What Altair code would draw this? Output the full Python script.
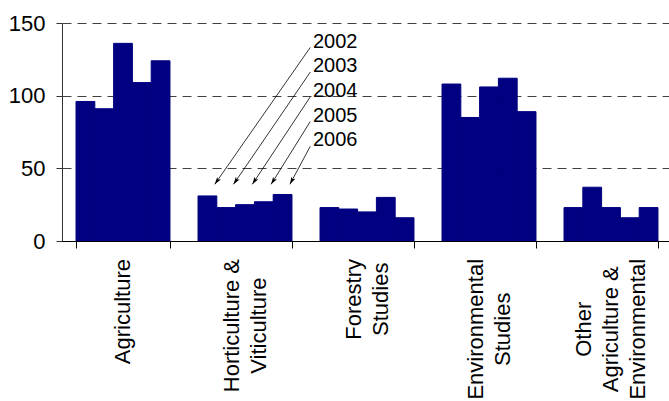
import json
import math

import altair as alt
import pandas as pd

# ---- data -------------------------------------------------------------
categories = [
    "Agriculture",
    "Horticulture &\nViticulture",
    "Forestry\nStudies",
    "Environmental\nStudies",
    "Other\nAgriculture &\nEnvironmental",
]
years = ["2002", "2003", "2004", "2005", "2006"]

agriculture = [96, 91, 136, 109, 124]
horticulture = [31, 23, 25, 27, 32]
forestry = [23, 22, 20, 30, 16]
environmental = [108, 85, 106, 112, 89]
other = [23, 37, 23, 16, 23]
series = [agriculture, horticulture, forestry, environmental, other]

# ---- layout -----------------------------------------------------------
FONT = "Liberation Sans"
NAVY = "#000080"
PLOT_W = 607          # visible plot width
RANGE_W = 610         # x range (last interval runs just past the edge)
PLOT_H = 218
PAD_INNER = 0.23
PAD_OUTER = PAD_INNER / 2
STEP = RANGE_W / len(categories)
Y_MAX = 150
LABEL_TOP = 18        # gap between the x axis line and the category labels
LINE_H = 27

# half of the longest line of each rotated category label (px)
label_half = {
    categories[0]: 52.6,
    categories[1]: 66.6,
    categories[2]: 40.3,
    categories[3]: 70.3,
    categories[4]: 70.3,
}
dx_expr = " : ".join(
    f"datum.category === {json.dumps(c)} ? {-h}" for c, h in label_half.items()
) + " : 0"
# centre the stack of lines on the category
dy_expr = f"-(length(split(datum.category, '\\n')) - 1) * {LINE_H / 2}"

rows = [
    {"category": c, "year": y, "count": v}
    for c, vals in zip(categories, series)
    for y, v in zip(years, vals)
]
bars_df = pd.DataFrame(rows)
cat_df = pd.DataFrame({"category": categories})

# ---- call-outs naming the years on the second group -----------------
px_x = STEP
px_y = PLOT_H / Y_MAX
group = 1
slot = (1 - PAD_INNER) / len(years)
label_x = 2.057
tail_x = 2.035
label_top = 137.2
label_step = 17.0
tip_y = max(horticulture) + 7
ann = []
for j, yr in enumerate(years):
    ly = label_top - j * label_step
    ty = ly - 4
    tx = group + PAD_OUTER + (j + 0.5) * slot + 0.06
    dxp = (tx - tail_x) * px_x
    dyp = (ty - tip_y) * px_y
    ang = math.degrees(math.atan2(dxp, -dyp)) % 360
    ann.append({"year": yr, "label_x": label_x, "label_y": ly,
                "tail_x": tail_x, "tail_y": ty,
                "tip_x": tx, "tip_y": tip_y, "angle": ang})
ann_df = pd.DataFrame(ann)

# ---- chart ------------------------------------------------------------
y_scale = alt.Scale(domain=[0, Y_MAX], nice=False, zero=True)
band_scale = alt.Scale(domain=categories, paddingInner=PAD_INNER,
                       paddingOuter=PAD_OUTER, range=[0, RANGE_W])
ann_x_scale = alt.Scale(domain=[0, len(categories)], range=[0, RANGE_W],
                        nice=False, zero=False)

bars = alt.Chart(bars_df).mark_bar(
    color=NAVY, stroke=NAVY, strokeWidth=1, opacity=1
).encode(
    x=alt.X(
        "category:N",
        sort=categories,
        scale=band_scale,
        axis=alt.Axis(
            title=None,
            labels=False,
            tickSize=7,
            tickBand="extent",
            tickOffset=PAD_INNER * STEP / 2,
            tickColor="black",
            domainColor="black",
            zindex=1,
        ),
    ),
    xOffset=alt.XOffset("year:N", sort=years),
    y=alt.Y(
        "count:Q",
        scale=y_scale,
        axis=alt.Axis(
            title=None,
            values=[0, 50, 100, 150],
            grid=True,
            gridDash=[9, 6],
            gridColor="#404040",
            gridWidth=1,
            tickSize=6,
            tickColor="#333333",
            domainColor="#333333",
            labelPadding=11,
            labelFont=FONT,
            labelFontSize=22,
            labelColor="black",
        ),
    ),
)

# rotated, multi-line category names under the axis
cat_labels = alt.Chart(cat_df).mark_text(
    angle=270,
    align="center",
    baseline="middle",
    lineBreak="\n",
    lineHeight=LINE_H,
    font=FONT,
    fontSize=22,
    color="black",
    dx=alt.ExprRef(dx_expr),
    dy=alt.ExprRef(dy_expr),
).encode(
    x=alt.X("category:N", sort=categories, scale=band_scale, axis=None),
    y=alt.value(PLOT_H + LABEL_TOP),
    text="category:N",
)

base = alt.Chart(ann_df)

arrows = base.mark_rule(color="black", strokeWidth=0.8).encode(
    x=alt.X("tail_x:Q", scale=ann_x_scale, axis=None),
    x2="tip_x:Q",
    y=alt.Y("tail_y:Q", scale=y_scale, title=None),
    y2="tip_y:Q",
)

heads = base.mark_point(
    shape="M0,0 L0.45,1.5 L0,1.15 L-0.45,1.5 Z",
    filled=True, color="black", opacity=1, size=100, strokeWidth=0,
).encode(
    x=alt.X("tip_x:Q", scale=ann_x_scale, axis=None),
    y=alt.Y("tip_y:Q", scale=y_scale, title=None),
    angle=alt.Angle("angle:Q", scale=None),
)

labels = base.mark_text(
    align="left", baseline="middle", font=FONT, fontSize=20, color="black"
).encode(
    x=alt.X("label_x:Q", scale=ann_x_scale, axis=None),
    y=alt.Y("label_y:Q", scale=y_scale, title=None),
    text="year:N",
)

chart = alt.layer(bars, cat_labels, arrows, heads, labels).resolve_scale(
    x="independent"
).properties(
    width=PLOT_W,
    height=PLOT_H,
    padding={"left": 62, "top": 23, "right": 0, "bottom": 160},
    autosize=alt.AutoSizeParams(type="none"),
    background="white",
).configure_view(stroke=None)

chart.save("out.html", embed_options={"renderer": "svg", "actions": False})
